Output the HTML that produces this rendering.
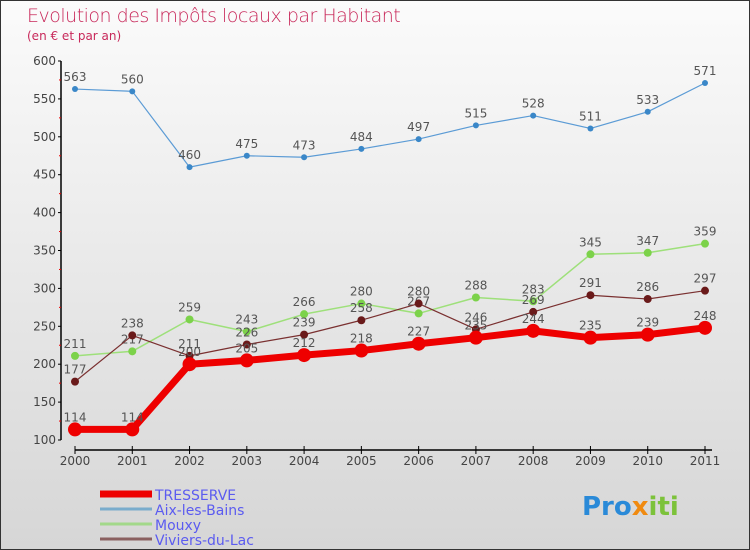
<!DOCTYPE html>
<html><head><meta charset="utf-8"><style>
body{margin:0}
#c{width:750px;height:550px;position:relative;box-sizing:border-box;border:1px solid #333;background:linear-gradient(#fbfbfb,#d6d6d6);font-family:"DejaVu Sans","Liberation Sans",sans-serif;overflow:hidden}
.t{position:absolute;left:26px;top:4px;font-size:19px;color:#c8285a;font-weight:300;letter-spacing:-0.5px}
.s{position:absolute;left:26px;top:28px;font-size:12px;color:#c8285a}
svg text{font-family:"DejaVu Sans","Liberation Sans",sans-serif}
</style></head><body>
<div id="c">
<div class="t">Evolution des Impôts locaux par Habitant</div>
<div class="s">(en € et par an)</div>
<svg id="g" width="750" height="550" style="position:absolute;left:-1px;top:-1px"></svg>
</div>
<script>
const years=["2000","2001","2002","2003","2004","2005","2006","2007","2008","2009","2010","2011"];
const yTicks=[100,150,200,250,300,350,400,450,500,550,600];
const tresserve=[114,114,200,205,212,218,227,235,244,235,239,248];
const aix=[563,560,460,475,473,484,497,515,528,511,533,571];
const mouxy=[211,217,259,243,266,280,267,288,283,345,347,359];
const viviers=[177,238,211,226,239,258,280,246,269,291,286,297];
const seriesNames=["TRESSERVE","Aix-les-Bains","Mouxy","Viviers-du-Lac"];
const NS="http://www.w3.org/2000/svg",g=document.getElementById('g');
const X=i=>75+i*(630/(years.length-1));
const Y=v=>440-(v-100)*(379/500);
function el(t,a,p){const e=document.createElementNS(NS,t);for(const k in a)e.setAttribute(k,a[k]);(p||g).appendChild(e);return e;}
let e;
e=el('line',{x1:61,y1:61,x2:61,y2:440,stroke:'#000','stroke-width':1.5});


e=el('line',{x1:75,y1:450,x2:712,y2:450,stroke:'#000','stroke-width':1.5});


yTicks.forEach((v,i)=>{
 el('line',{x1:58,x2:61,y1:Y(v),y2:Y(v),stroke:'#000'});
 if(i<yTicks.length-1)el('line',{x1:59,x2:61,y1:Y(v+25),y2:Y(v+25),stroke:'#e00'});
 e=el('text',{x:56,y:Y(v)+4,'text-anchor':'end','font-size':12,fill:'#444'});
 e.textContent=v;
 
 
});
years.forEach((y,i)=>{
 el('line',{x1:X(i),x2:X(i),y1:446,y2:454,stroke:'#000'});
 e=el('text',{x:X(i),y:465,'text-anchor':'middle','font-size':12,fill:'#444'});
 e.textContent=y;
 
 
});
function series(data,color,dot,w,r,name){
 const grp=el('g',{});
 
 
 el('polyline',{points:data.map((v,i)=>X(i)+','+Y(v)).join(' '),fill:'none',stroke:color,'stroke-width':w,'stroke-linejoin':'round'},grp);
 data.forEach((v,i)=>{
  const c=el('circle',{cx:X(i),cy:Y(v),r:r,fill:dot},grp);
  
  
  const t=el('text',{x:X(i),y:Y(v)-8,'text-anchor':'middle','font-size':12,fill:'#555'},grp);
  t.textContent=v;
  
  
 });
}
series(aix,'#5b9bd5','#3a87c8',1.2,3,'aix-les-bains');
series(mouxy,'#9ee07a','#7cd24a',1.5,4,'mouxy');
series(viviers,'#7a3030','#6a1a1a',1.2,4,'viviers-du-lac');
series(tresserve,'#ee0000','#ee0000',7,7,'tresserve');
const leg=[['#ee0000',7],['#7aaccc',3],['#a2d88a',3],['#8a6060',3]];
seriesNames.forEach((n,i)=>{
 const y=494+i*15;
 const l=el('line',{x1:100,x2:152,y1:y,y2:y,stroke:leg[i][0],'stroke-width':leg[i][1]});
 
 
 const t=el('text',{x:155,y:y+6,'font-size':14,fill:'#5b5bf0'});
 t.textContent=n;
 
 
});
const lg=el('text',{x:582,y:515,'font-size':26,'font-weight':'bold'});


[['Pro','#2a8ad8'],['x','#f08a10'],['iti','#7cc23a']].forEach(p=>{const s=el('tspan',{fill:p[1]},lg);s.textContent=p[0];});
</script>
</body></html>
